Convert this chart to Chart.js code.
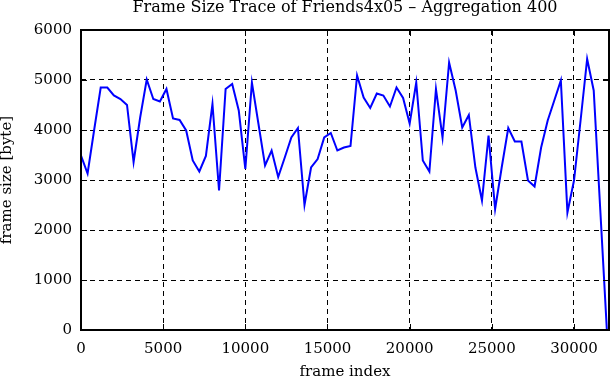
<!DOCTYPE html>
<html>
<head>
<meta charset="utf-8">
<script src="https://cdn.jsdelivr.net/npm/chart.js@4.4.1/dist/chart.umd.min.js"></script>
<style>
    html, body { margin: 0; padding: 0; background: #fff; }
    #wrap { width: 611px; height: 380px; }
</style>
</head>
<body>
<div id="wrap"><canvas id="traceChart" width="611" height="380"></canvas></div>
<script>
// frame index (aggregated per 400 frames) and frame size in bytes
const frameIndex = [
    0, 400, 800, 1200, 1600, 2000, 2400, 2800, 3200, 3600,
    4000, 4400, 4800, 5200, 5600, 6000, 6400, 6800, 7200, 7600,
    8000, 8400, 8800, 9200, 9600, 10000, 10400, 10800, 11200, 11600,
    12000, 12400, 12800, 13200, 13600, 14000, 14400, 14800, 15200, 15600,
    16000, 16400, 16800, 17200, 17600, 18000, 18400, 18800, 19200, 19600,
    20000, 20400, 20800, 21200, 21600, 22000, 22400, 22800, 23200, 23600,
    24000, 24400, 24800, 25200, 25600, 26000, 26400, 26800, 27200, 27600,
    28000, 28400, 28800, 29200, 29600, 30000, 30400, 30800, 31200, 31600,
    32000
];
const frameSize = [
    3490, 3130, 4000, 4850, 4850, 4690, 4620, 4500, 3360, 4250,
    5010, 4620, 4570, 4820, 4230, 4200, 3990, 3390, 3170, 3480,
    4520, 2790, 4820, 4920, 4390, 3220, 4950, 4120, 3290, 3590,
    3060, 3450, 3850, 4040, 2500, 3250, 3420, 3850, 3940, 3590,
    3650, 3680, 5090, 4650, 4440, 4730, 4690, 4470, 4850, 4640,
    4130, 4950, 3390, 3170, 4820, 3850, 5350, 4790, 4050, 4300,
    3250, 2590, 3890, 2420, 3250, 4040, 3770, 3770, 2990, 2870,
    3650, 4190, 4590, 4990, 2350, 2990, 4190, 5420, 4790, 2400,
    0
];
const xTicks = [0, 5000, 10000, 15000, 20000, 25000, 30000];
const yTicks = [0, 1000, 2000, 3000, 4000, 5000, 6000];

const serif = 'DejaVu Serif';

// gnuplot style: closed border with short ticks pointing inward
const frameBox = {
    id: 'frameBox',
    afterDraw(chart) {
        const { ctx, chartArea: a, scales } = chart;
        ctx.save();
        ctx.strokeStyle = '#000';
        ctx.lineWidth = 1;
        ctx.beginPath();
        scales.x.ticks.forEach(t => {
            const px = Math.round(scales.x.getPixelForValue(t.value)) + 0.5;
            ctx.moveTo(px, a.bottom); ctx.lineTo(px, a.bottom - 6);
            ctx.moveTo(px, a.top); ctx.lineTo(px, a.top + 6);
        });
        scales.y.ticks.forEach(t => {
            const py = Math.round(scales.y.getPixelForValue(t.value)) + 0.5;
            ctx.moveTo(a.left, py); ctx.lineTo(a.left + 6, py);
            ctx.moveTo(a.right, py); ctx.lineTo(a.right - 6, py);
        });
        ctx.stroke();
        ctx.lineWidth = 2;
        ctx.strokeRect(a.left, a.top, a.right - a.left, a.bottom - a.top);
        ctx.restore();
    }
};

const ctx = document.getElementById('traceChart').getContext('2d');
new Chart(ctx, {
    type: 'line',
    data: {
        datasets: [{
            data: frameIndex.map((f, i) => ({ x: f, y: frameSize[i] })),
            borderColor: '#0000ff',
            borderWidth: 2,
            pointRadius: 0,
            tension: 0,
            fill: false
        }]
    },
    options: {
        responsive: false,
        animation: false,
        layout: { padding: { left: 0, right: 2, top: 0, bottom: 0 } },
        plugins: {
            legend: { display: false },
            tooltip: { enabled: false },
            title: {
                display: true,
                fullSize: false,
                text: 'Frame Size Trace of Friends4x05 \u2013 Aggregation 400',
                color: '#000',
                font: { family: serif, size: 16, weight: 'normal', lineHeight: 1 },
                padding: { top: 0, bottom: 14 }
            }
        },
        scales: {
            x: {
                type: 'linear',
                min: 0,
                max: 32130,
                afterBuildTicks: scale => {
                    scale.ticks = xTicks.map(v => ({ value: v }));
                },
                afterFit: scale => { scale.height = 50; },
                ticks: {
                    color: '#000',
                    padding: 10,
                    maxRotation: 0,
                    font: { family: serif, size: 15 },
                    callback: v => String(v)
                },
                grid: { color: '#000', lineWidth: 1, drawTicks: false },
                border: { display: false, dash: [5, 4] },
                title: {
                    display: true,
                    text: 'frame index',
                    color: '#000',
                    font: { family: serif, size: 15, lineHeight: 1 },
                    padding: { top: 0, bottom: 0 }
                }
            },
            y: {
                min: 0,
                max: 6000,
                afterBuildTicks: scale => {
                    scale.ticks = yTicks.map(v => ({ value: v }));
                },
                afterFit: scale => { scale.width = 81; },
                ticks: {
                    color: '#000',
                    padding: 9,
                    font: { family: serif, size: 15 },
                    callback: v => String(v)
                },
                grid: { color: '#000', lineWidth: 1, drawTicks: false },
                border: { display: false, dash: [5, 4] },
                title: {
                    display: true,
                    text: 'frame size [byte]',
                    color: '#000',
                    font: { family: serif, size: 15, lineHeight: 1 },
                    padding: { top: 0, bottom: 0 }
                }
            }
        }
    },
    plugins: [frameBox]
});
</script>
</body>
</html>
